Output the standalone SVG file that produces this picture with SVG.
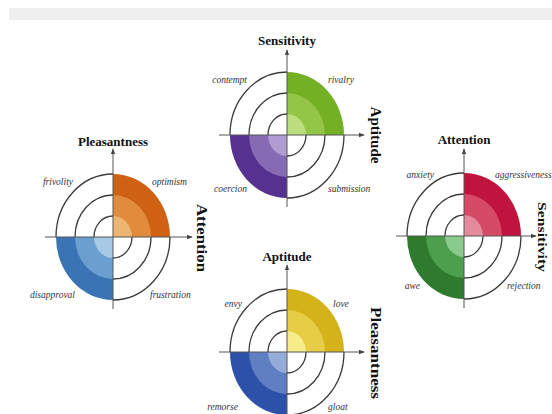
<svg xmlns="http://www.w3.org/2000/svg" xmlns:xlink="http://www.w3.org/1999/xlink" width="552" height="414" viewBox="0 0 552 414">
<style>
.rings{fill:none;stroke:#3a3a3a;stroke-width:1.3}
.axis{fill:none;stroke:#555;stroke-width:1}
.title{font-family:"Liberation Serif",serif;font-weight:bold;font-size:13px;fill:#111;text-anchor:middle}
.side{font-family:"Liberation Serif",serif;font-weight:bold;font-size:14px;fill:#111;text-anchor:middle}
.lab{font-family:"Liberation Serif",serif;font-style:italic;font-size:9.5px;fill:#333}
.end{text-anchor:end}
</style>
<defs>
<marker id="ah" viewBox="0 0 8 8" refX="7" refY="4" markerWidth="6" markerHeight="6" orient="auto" markerUnits="userSpaceOnUse">
<path d="M0,1 L8,4 L0,7 Z" fill="#444"/>
</marker>
<path id="tr3" d="M0,0 V-63 A57,63 0 0 1 57,0 Z"/>
<path id="tr2" d="M0,0 V-42 A38,42 0 0 1 38,0 Z"/>
<path id="tr1" d="M0,0 V-21 A19,21 0 0 1 19,0 Z"/>
<path id="bl3" d="M0,0 V63 A57,63 0 0 1 -57,0 Z"/>
<path id="bl2" d="M0,0 V42 A38,42 0 0 1 -38,0 Z"/>
<path id="bl1" d="M0,0 V21 A19,21 0 0 1 -19,0 Z"/>
<path id="ring" d="M0,-63 A57,63 0 0 0 -57,0 M57,0 A57,63 0 0 1 0,63 M0,-42 A38,42 0 0 0 -38,0 M38,0 A38,42 0 0 1 0,42 M0,-21 A19,21 0 0 0 -19,0 M19,0 A19,21 0 0 1 0,21"/>
</defs>
<rect width="552" height="414" fill="#fff"/>
<rect x="9" y="8" width="543" height="12" fill="#efefef"/>

<g id="pleasantness" transform="translate(113,237)">
<use xlink:href="#tr3" fill="#cf6114"/><use xlink:href="#tr2" fill="#e08c3c"/><use xlink:href="#tr1" fill="#ecb672"/>
<use xlink:href="#bl3" fill="#3b74b4"/><use xlink:href="#bl2" fill="#6b9fd0"/><use xlink:href="#bl1" fill="#a6c9e6"/>
<use xlink:href="#ring" class="rings"/>
<text class="title" x="0" y="-91">Pleasantness</text>
<text class="side" transform="translate(84,1) rotate(90)" textLength="68" lengthAdjust="spacingAndGlyphs">Attention</text>
<text class="lab end" x="-40" y="-52">frivolity</text>
<text class="lab" x="39" y="-52">optimism</text>
<text class="lab end" x="-38" y="61">disapproval</text>
<text class="lab" x="37" y="61">frustration</text>
</g>

<g id="sensitivity" transform="translate(287,135)">
<use xlink:href="#tr3" fill="#74b024"/><use xlink:href="#tr2" fill="#93c546"/><use xlink:href="#tr1" fill="#badd7e"/>
<use xlink:href="#bl3" fill="#563290"/><use xlink:href="#bl2" fill="#876ab4"/><use xlink:href="#bl1" fill="#b09cd1"/>
<use xlink:href="#ring" class="rings"/>
<text class="title" x="0" y="-90">Sensitivity</text>
<text class="side" transform="translate(84,0) rotate(90)" textLength="57" lengthAdjust="spacingAndGlyphs">Aptitude</text>
<text class="lab end" x="-40" y="-52">contempt</text>
<text class="lab" x="41" y="-52">rivalry</text>
<text class="lab end" x="-40" y="57">coercion</text>
<text class="lab" x="41" y="57">submission</text>
</g>

<g id="attention" transform="translate(464,236)">
<use xlink:href="#tr3" fill="#c0133d"/><use xlink:href="#tr2" fill="#d54b67"/><use xlink:href="#tr1" fill="#e58a9a"/>
<use xlink:href="#bl3" fill="#2e7b2e"/><use xlink:href="#bl2" fill="#4c9f4c"/><use xlink:href="#bl1" fill="#8aca8a"/>
<use xlink:href="#ring" class="rings"/>
<text class="title" x="0" y="-92">Attention</text>
<text class="side" style="font-size:12px" transform="translate(74,1) rotate(90)" textLength="70" lengthAdjust="spacingAndGlyphs">Sensitivity</text>
<text class="lab end" x="-30" y="-58">anxiety</text>
<text class="lab" x="31" y="-58">aggressiveness</text>
<text class="lab end" x="-44" y="53">awe</text>
<text class="lab" x="43" y="53">rejection</text>
</g>

<g id="aptitude" transform="translate(287,352)">
<use xlink:href="#tr3" fill="#d4b21a"/><use xlink:href="#tr2" fill="#e7cd46"/><use xlink:href="#tr1" fill="#f6ed8a"/>
<use xlink:href="#bl3" fill="#2d50a8"/><use xlink:href="#bl2" fill="#607fc2"/><use xlink:href="#bl1" fill="#95acd9"/>
<use xlink:href="#ring" class="rings"/>
<text class="title" x="0" y="-91">Aptitude</text>
<text class="side" transform="translate(84,1) rotate(90)" textLength="92" lengthAdjust="spacingAndGlyphs">Pleasantness</text>
<text class="lab end" x="-45" y="-45">envy</text>
<text class="lab" x="46" y="-45">love</text>
<text class="lab end" x="-49" y="58">remorse</text>
<text class="lab" x="41" y="58">gloat</text>
</g>

<g id="connectors">
<path class="axis" d="M113,309 V149" marker-end="url(#ah)"/>
<path class="axis" d="M45,237 H192" marker-end="url(#ah)"/>
<path class="axis" d="M287,207 V50" marker-end="url(#ah)"/>
<path class="axis" d="M219,135 H364" marker-end="url(#ah)"/>
<path class="axis" d="M464,308 V149" marker-end="url(#ah)"/>
<path class="axis" d="M396,236 H536" marker-end="url(#ah)"/>
<path class="axis" d="M287,414 V265" marker-end="url(#ah)"/>
<path class="axis" d="M219,352 H364" marker-end="url(#ah)"/>
</g>
</svg>
